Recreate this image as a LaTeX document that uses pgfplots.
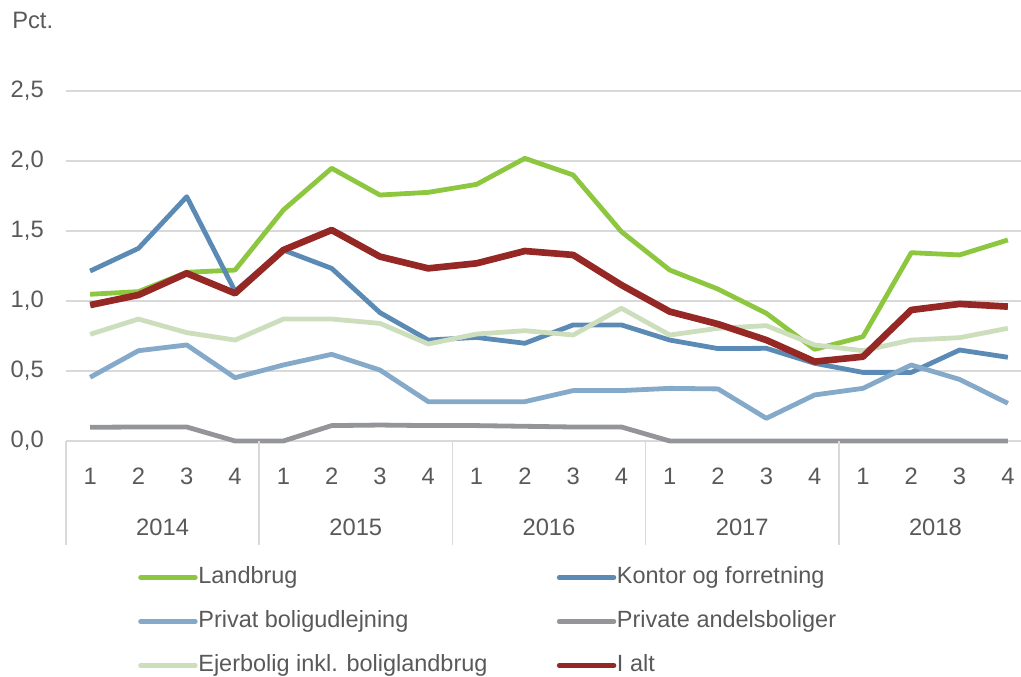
\documentclass[border=0pt]{standalone}
\usepackage{fontspec}
\setmainfont{Liberation Sans}
\usepackage{pgfplots}
\pgfplotsset{compat=1.18}
\definecolor{txt}{HTML}{595959}
\definecolor{gridc}{HTML}{D9D9D9}
\definecolor{cLand}{HTML}{8DC63F}
\definecolor{cKont}{HTML}{5B8BB5}
\definecolor{cPriv}{HTML}{85A9C8}
\definecolor{cAnd}{HTML}{939598}
\definecolor{cEjer}{HTML}{CDDEBD}
\definecolor{cAlt}{HTML}{952825}
\begin{document}
\begin{tikzpicture}
\path[use as bounding box] (-49.5pt,-177pt) rectangle (716.25pt,330.75pt);
\begin{axis}[
  at={(0pt,0pt)}, anchor=south west,
  scale only axis, width=724.5pt, height=262.5pt,
  xmin=-0.5, xmax=19.5, ymin=0, ymax=2.5,
  clip=false,
  axis line style={draw=none},
  major tick length=0pt,
  ymajorgrids, grid style={gridc, line width=1.3pt},
  ytick={0,0.5,1,1.5,2,2.5},
  xtick={0,...,19},
  xticklabels={1,2,3,4,1,2,3,4,1,2,3,4,1,2,3,4,1,2,3,4},
  every tick label/.append style={font=\fontsize{17.8}{20}\selectfont, text=txt},
  xticklabel style={anchor=base, inner sep=0pt, yshift=-32.6pt},
  yticklabel style={anchor=east, inner sep=0pt, xshift=-16.5pt,
    /pgf/number format/.cd, fixed, fixed zerofill, precision=1, use comma},
  /pgf/number format/assume math mode=true,
  legend columns=2,
  legend cell align=left,
  legend image code/.code={\draw[#1, line width=3.6pt, line cap=round] (0pt,0pt) -- (41pt,0pt);},
  legend style={draw=none, fill=none, inner sep=0pt,
    at={(0.0745,-0.357)}, anchor=north west,
    font=\fontsize{17.6}{20}\selectfont, text=txt,
    nodes={inner sep=0pt, text height=13pt, text depth=4pt},
    column sep=0.5pt,
    /tikz/column 2/.style={column sep=52pt},
    row sep=16pt},
  line join=round,
]
\addplot[cLand, line width=3.6pt] coordinates {
(0,1.048)(1,1.067)(2,1.205)(3,1.221)(4,1.65)(5,1.948)(6,1.757)(7,1.776)(8,1.833)(9,2.019)(10,1.90)(11,1.495)(12,1.221)(13,1.085)(14,0.912)(15,0.655)(16,0.745)(17,1.345)(18,1.329)(19,1.436)};
\addlegendentry{Landbrug}
\addplot[cKont, line width=3.6pt] coordinates {
(0,1.214)(1,1.376)(2,1.745)(3,1.07)(4,1.364)(5,1.233)(6,0.917)(7,0.721)(8,0.740)(9,0.698)(10,0.829)(11,0.829)(12,0.721)(13,0.66)(14,0.662)(15,0.555)(16,0.490)(17,0.490)(18,0.650)(19,0.598)};
\addlegendentry{Kontor og forretning}
\addplot[cPriv, line width=3.6pt] coordinates {
(0,0.455)(1,0.645)(2,0.686)(3,0.452)(4,0.543)(5,0.619)(6,0.507)(7,0.281)(8,0.281)(9,0.281)(10,0.360)(11,0.360)(12,0.376)(13,0.372)(14,0.162)(15,0.329)(16,0.376)(17,0.543)(18,0.440)(19,0.269)};
\addlegendentry{Privat boligudlejning}
\addplot[cAnd, line width=3.6pt] coordinates {
(0,0.098)(1,0.10)(2,0.10)(3,0)(4,0)(5,0.11)(6,0.114)(7,0.11)(8,0.11)(9,0.105)(10,0.10)(11,0.10)(12,0)(13,0)(14,0)(15,0)(16,0)(17,0)(18,0)(19,0)};
\addlegendentry{Private andelsboliger}
\addplot[cEjer, line width=3.6pt] coordinates {
(0,0.762)(1,0.871)(2,0.774)(3,0.721)(4,0.871)(5,0.871)(6,0.840)(7,0.693)(8,0.764)(9,0.788)(10,0.757)(11,0.948)(12,0.757)(13,0.805)(14,0.824)(15,0.686)(16,0.645)(17,0.721)(18,0.738)(19,0.805)};
\addlegendentry{Ejerbolig inkl. boliglandbrug}
\addplot[cAlt, line width=5pt] coordinates {
(0,0.971)(1,1.043)(2,1.198)(3,1.055)(4,1.364)(5,1.507)(6,1.317)(7,1.233)(8,1.269)(9,1.357)(10,1.329)(11,1.114)(12,0.924)(13,0.835)(14,0.721)(15,0.567)(16,0.602)(17,0.936)(18,0.979)(19,0.960)};
\addlegendentry{I alt}
% group separators and year labels
\foreach \s in {-0.5,3.5,7.5,11.5,15.5,19.5}{
  \edef\tmp{\noexpand\draw[gridc, line width=1.3pt] (axis cs:\s,0) -- ++(0pt,-78pt);}\tmp
}
\foreach \c/\y in {1.5/2014,5.5/2015,9.5/2016,13.5/2017,17.5/2018}{
  \edef\tmp{\noexpand\node[anchor=base, inner sep=0pt, text=txt, font=\noexpand\fontsize{17.8}{20}\noexpand\selectfont, yshift=-70.8pt] at (axis cs:\c,0) {\y};}\tmp
}
\node[anchor=base west, inner sep=0pt, text=txt, font=\fontsize{17.8}{20}\selectfont, xshift=-40.5pt, yshift=47pt] at (rel axis cs:0,1) {Pct.};
\end{axis}
\end{tikzpicture}
\end{document}
